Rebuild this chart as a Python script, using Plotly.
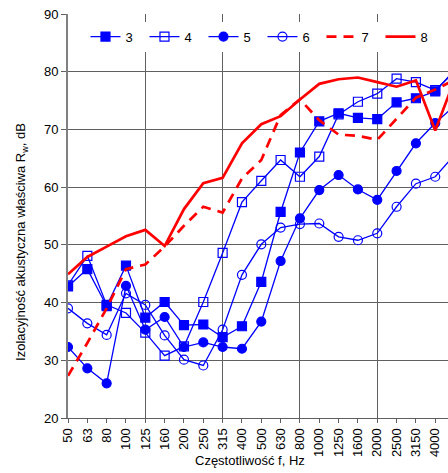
import plotly.graph_objects as go

# Third-octave band centre frequencies, Hz
freq = ['50', '63', '80', '100', '125', '160', '200', '250', '315', '400', '500',
        '630', '800', '1000', '1250', '1600', '2000', '2500', '3150', '4000', '5000']

# Sound reduction index R, dB, per configuration
r3 = [42.8, 45.8, 39.4, 46.4, 37.4, 40.1, 36.1, 36.2, 34.0, 35.9, 43.6,
      55.7, 66.0, 71.4, 72.8, 72.0, 71.8, 74.7, 75.4, 76.6, 80.3]
r4 = [43.0, 48.1, 39.6, 38.2, 34.8, 30.8, 32.4, 40.1, 48.6, 57.4, 61.1,
      64.7, 61.8, 65.3, 72.6, 74.8, 76.2, 78.8, 78.2, 76.8, 80.0]
r5 = [32.3, 28.6, 26.0, 42.9, 35.3, 37.5, 32.3, 33.1, 32.3, 32.0, 36.7,
      47.2, 54.6, 59.5, 62.1, 59.6, 57.8, 62.8, 67.6, 71.1, 74.1]
r6 = [39.0, 36.4, 34.4, 41.6, 39.6, 34.3, 30.1, 29.1, 35.3, 44.8, 50.1,
      53.0, 53.6, 53.7, 51.4, 50.8, 52.0, 56.6, 60.6, 61.8, 65.6]
r7 = [27.3, 33.0, 39.0, 45.8, 46.6, 49.7, 53.3, 56.6, 55.6, 61.5, 64.7,
      72.5, 75.2, 71.6, 69.1, 68.9, 68.2, 71.9, 75.5, 76.9, 78.6]
r8 = [44.9, 47.9, 49.7, 51.5, 52.6, 49.8, 56.2, 60.7, 61.6, 67.6, 70.9,
      72.3, 75.2, 77.9, 78.7, 79.0, 78.2, 77.4, 78.5, 69.8, 78.6]

grid_freq = ['50', '125', '315', '800', '2000']

BLUE = '#0000FF'
RED = '#FF0000'
FONT = 'Liberation Sans, Arial, sans-serif'

fig = go.Figure()

blue_series = [
    ('3', r3, 'square', BLUE),
    ('4', r4, 'square-open', BLUE),
    ('5', r5, 'circle', BLUE),
    ('6', r6, 'circle-open', BLUE),
]
for name, vals, sym, col in blue_series:
    fig.add_trace(go.Scatter(
        x=freq, y=vals, name=name, mode='lines+markers',
        line=dict(color=col, width=1.3),
        marker=dict(symbol=sym, size=9, color=col, line=dict(color=col, width=1.2)),
    ))

fig.add_trace(go.Scatter(
    x=freq, y=r7, name='7', mode='lines',
    line=dict(color=RED, width=2.7, dash='10px,7px'),
))
fig.add_trace(go.Scatter(
    x=freq, y=r8, name='8', mode='lines',
    line=dict(color=RED, width=2.7),
))

# secondary category axis carrying only the major vertical gridlines
fig.add_trace(go.Scatter(x=freq, y=[None] * len(freq), xaxis='x2',
                         showlegend=False, hoverinfo='skip'))

x_range = [0, 19.66]

fig.update_layout(
    width=448, height=473,
    margin=dict(l=68, r=0, t=14, b=55),
    paper_bgcolor='white', plot_bgcolor='white',
    font=dict(family=FONT, size=13, color='black'),
    showlegend=True,
    legend=dict(
        orientation='h', x=0.046, xanchor='left', y=0.944, yanchor='middle',
        bgcolor='white', borderwidth=0, font=dict(size=13),
        entrywidth=14, entrywidthmode='pixels',
        tracegroupgap=0, itemwidth=30,
    ),
    xaxis=dict(
        type='category', categoryorder='array', categoryarray=freq,
        range=x_range, showgrid=False, zeroline=False,
        showline=True, linecolor='#606060', linewidth=1,
        ticks='outside', ticklen=4, tickcolor='#606060',
        tickangle=-90, tickfont=dict(size=13),
    ),
    xaxis2=dict(
        type='category', categoryorder='array', categoryarray=freq,
        range=x_range, overlaying='x', side='bottom',
        tickvals=grid_freq, showticklabels=False, ticks='',
        showgrid=True, gridcolor='#606060', gridwidth=1, zeroline=False,
        showline=False,
    ),
    yaxis=dict(
        range=[20, 90], dtick=10, showgrid=True, gridcolor='#606060', gridwidth=1,
        zeroline=False, showline=True, linecolor='#808080', linewidth=2,
        ticks='outside', ticklen=5, tickcolor='#606060',
        tickfont=dict(size=13),
    ),
    annotations=[
        dict(text='Częstotliwość f, Hz', xref='paper', yref='paper',
             x=0.479, y=-0.106, xanchor='center', yanchor='middle',
             showarrow=False, font=dict(size=13)),
        dict(text='Izolacyjność akustyczna właściwa R<sub>w</sub>, dB',
             xref='paper', yref='paper', x=-0.121, y=0.436,
             xanchor='center', yanchor='middle', textangle=-90,
             showarrow=False, font=dict(size=13)),
    ],
)

fig.write_html('out.html')
